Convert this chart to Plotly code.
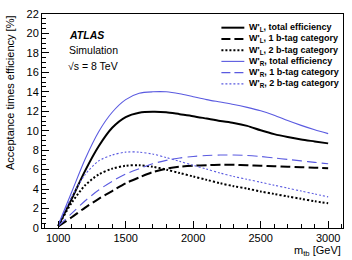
import plotly.graph_objects as go

mass = [1000, 1100, 1200, 1300, 1400, 1500, 1600, 1700, 1800, 1900, 2000,
        2100, 2200, 2300, 2400, 2500, 2600, 2700, 2800, 2900, 3000]

wl_total = [0.2, 3.0, 5.9, 8.4, 10.3, 11.4, 11.85, 11.95, 11.9, 11.7, 11.5,
            11.25, 11.0, 10.8, 10.5, 10.05, 9.65, 9.35, 9.1, 8.9, 8.7]
wl_1b = [0.15, 1.1, 2.1, 3.0, 3.8, 4.6, 5.2, 5.75, 6.1, 6.3, 6.4,
         6.45, 6.5, 6.5, 6.45, 6.4, 6.35, 6.3, 6.25, 6.2, 6.15]
wl_2b = [0.2, 2.6, 4.4, 5.5, 6.1, 6.4, 6.45, 6.3, 6.0, 5.65, 5.3,
         4.95, 4.6, 4.3, 4.05, 3.75, 3.5, 3.25, 3.0, 2.75, 2.55]
wr_total = [0.3, 3.7, 7.1, 9.9, 11.9, 13.2, 13.85, 14.0, 14.0, 13.8, 13.5,
            13.2, 12.95, 12.7, 12.4, 12.05, 11.6, 11.05, 10.55, 10.1, 9.7]
wr_1b = [0.2, 1.5, 2.8, 3.9, 4.8, 5.55, 6.1, 6.6, 6.95, 7.2, 7.35,
         7.45, 7.5, 7.5, 7.45, 7.35, 7.2, 7.05, 6.9, 6.75, 6.6]
wr_2b = [0.3, 3.2, 5.5, 6.9, 7.5, 7.8, 7.8, 7.6, 7.25, 6.85, 6.45,
         6.05, 5.65, 5.3, 5.0, 4.7, 4.4, 4.1, 3.8, 3.5, 3.2]

labels = ["W'<sub>L</sub>, total efficiency",
          "W'<sub>L</sub>, 1 b-tag category",
          "W'<sub>L</sub>, 2 b-tag category",
          "W'<sub>R</sub>, total efficiency",
          "W'<sub>R</sub>, 1 b-tag category",
          "W'<sub>R</sub>, 2 b-tag category"]

y_ticks = list(range(0, 23, 2))
x_ticks = [1000, 1500, 2000, 2500, 3000]

BLUE = "#5a5ae0"
series = [wl_total, wl_1b, wl_2b, wr_total, wr_1b, wr_2b]
colors = ["black", "black", "black", BLUE, BLUE, BLUE]
widths = [2, 2, 2, 1.1, 1.1, 1.1]
dashes = ["solid", "10px,4px", "2px,2px", "solid", "10px,5px", "2px,2px"]

FONT = "Liberation Sans, Arial, sans-serif"

fig = go.Figure()
for ys, c, w, d, name in zip(series, colors, widths, dashes, labels):
    fig.add_trace(go.Scatter(x=mass, y=ys, mode="lines", name=name,
                             line=dict(color=c, width=w, dash=d, shape="spline", smoothing=0.8),
                             showlegend=False))

# manual legend
row0 = 23
dy = 11.5
H = 260
plot_top = 9
plot_bottom = 228
ph = plot_bottom - plot_top
pl, pr = 42, 344
pw = pr - pl
shapes = []
annotations = []
leg_dashes = ["solid", "9px,4px", "2px,2px", "solid", "9px,4px", "2px,2px"]
for i, (c, w, d, name) in enumerate(zip(colors, widths, leg_dashes, labels)):
    ypix = row0 + i * dy
    yp = (plot_bottom - ypix) / ph
    x0 = (222 - pl) / pw
    x1 = (245 - pl) / pw
    shapes.append(dict(type="line", xref="paper", yref="paper", x0=x0, x1=x1, y0=yp, y1=yp,
                       line=dict(color=c, width=w, dash=d)))
    annotations.append(dict(xref="paper", yref="paper", x=(248 - pl) / pw, y=yp,
                            xanchor="left", yanchor="middle", showarrow=False,
                            text="<b>" + name + "</b>",
                            font=dict(family=FONT, size=9, color="black")))

def py(pix):
    return (plot_bottom - pix) / ph

annotations += [
    dict(xref="paper", yref="paper", x=(67 - pl) / pw, y=py(30), xanchor="left", yanchor="middle",
         showarrow=False, text="<b><i>ATLAS</i></b>", font=dict(family=FONT, size=10.5, color="black")),
    dict(xref="paper", yref="paper", x=(67 - pl) / pw, y=py(46), xanchor="left", yanchor="middle",
         showarrow=False, text="Simulation", font=dict(family=FONT, size=10.5, color="black")),
    dict(xref="paper", yref="paper", x=(66 - pl) / pw, y=py(62), xanchor="left", yanchor="middle",
         showarrow=False, text="\u221As = 8 TeV", font=dict(family=FONT, size=10.5, color="black")),
    dict(xref="paper", yref="paper", x=0, xshift=-32, y=1, xanchor="center", yanchor="top",
         showarrow=False, textangle=-90, text="Acceptance times efficiency [%]",
         font=dict(family=FONT, size=11, color="black")),
    dict(xref="paper", yref="paper", x=1, y=0, yshift=-14, xanchor="right", yanchor="top",
         showarrow=False, text="m<sub>tb</sub> [GeV]",
         font=dict(family=FONT, size=11, color="black")),
]

fig.update_layout(
    width=352, height=260,
    margin=dict(l=pl, r=352 - pr, t=plot_top, b=H - plot_bottom),
    paper_bgcolor="white", plot_bgcolor="white",
    font=dict(family=FONT, size=11, color="black"),
    shapes=shapes, annotations=annotations,
    xaxis=dict(range=[880, 3110], tickvals=x_ticks, ticktext=[str(v) for v in x_ticks],
               ticks="inside", ticklen=7, tickwidth=1, tickcolor="black",
               minor=dict(ticks="inside", dtick=100, ticklen=4, tickcolor="black", showgrid=False),
               showline=True, linecolor="black", linewidth=1, mirror=True,
               showgrid=False, zeroline=False, tickfont=dict(size=11)),
    yaxis=dict(range=[0, 22], tickvals=y_ticks, ticktext=[str(v) for v in y_ticks],
               ticks="inside", ticklen=7, tickwidth=1, tickcolor="black",
               minor=dict(ticks="inside", dtick=0.5, ticklen=4, tickcolor="black", showgrid=False),
               showline=True, linecolor="black", linewidth=1, mirror=True,
               showgrid=False, zeroline=False, tickfont=dict(size=11)),
)

fig.write_html("out.html")
